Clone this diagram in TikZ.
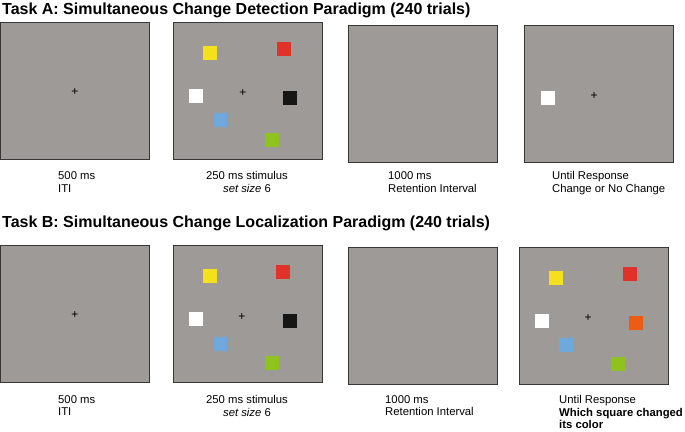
\documentclass[tikz,border=0pt]{standalone}
\usepackage{fontspec}
\setmainfont{Liberation Sans}
\usetikzlibrary{positioning}
\definecolor{scrgrey}{RGB}{157,154,151}
\definecolor{scredge}{RGB}{55,55,55}
\definecolor{sqyellow}{RGB}{245,224,30}
\definecolor{sqred}{RGB}{224,50,40}
\definecolor{sqblack}{RGB}{22,22,22}
\definecolor{sqblue}{RGB}{111,168,218}
\definecolor{sqgreen}{RGB}{142,194,28}
\definecolor{sqorange}{RGB}{236,92,18}
\tikzset{
  screen/.style={draw=scredge,line width=0.9pt,fill=scrgrey,minimum width=149pt,
                 minimum height=137pt,inner sep=0pt},
  sq/.style={minimum size=14pt,inner sep=0pt},
  fixc/.style={font=\fontsize{12}{12}\selectfont,inner sep=0pt},
  caption/.style={font=\fontsize{11.3}{12.8}\selectfont,align=left,inner sep=0pt,anchor=north west},
  captionc/.style={caption,align=center,anchor=north},
  ttl/.style={font=\fontsize{16}{18}\selectfont\bfseries,inner sep=0pt,anchor=base west},
}
\begin{document}
\begin{tikzpicture}[x=1pt,y=-1pt]
\useasboundingbox (0,0) rectangle (685,431);

% Task A
\node[ttl] (ta) at (2,14) {Task A: Simultaneous Change Detection Paradigm (240 trials)};

% Row A: screens
\node[screen] (a1) at (74.5,90.5) {};
\node[screen] (a2) at (247.5,90.5) {};
\node[screen] (a3) at (423,93.5) {};
\node[screen] (a4) at (598.5,93.5) {};

% Row A: fixation and stimuli
\node[fixc] (fa1) at (75,92) {+};
\node[fixc] (fa2) at (243,93) {+};
\node[sq,fill=sqyellow] (ya2) at (210,53) {};
\node[sq,fill=sqred] (ra2) at (284,49) {};
\node[sq,fill=white] (wa2) at (196,96) {};
\node[sq,fill=sqblack] (ka2) at (290,98) {};
\node[sq,fill=sqblue] (ba2) at (220,120) {};
\node[sq,fill=sqgreen] (ga2) at (272,140) {};
\node[fixc] (fa4) at (594,96) {+};
\node[sq,fill=white] (wa4) at (548,98) {};

% Row A: captions
\node[caption] (la1) at (58,171.5) {500 ms\\ITI};
\node[captionc] (la2) at (247,171.5) {250 ms stimulus\\\textit{set size} 6};
\node[caption] (la3) at (388,171.5) {1000 ms\\Retention Interval};
\node[caption] (la4) at (552,171.5) {Until Response\\Change or No Change};

% Task B
\node[ttl] (tb) at (2,227) {Task B: Simultaneous Change Localization Paradigm (240 trials)};

% Row B: screens
\node[screen] (b1) at (74.5,314) {};
\node[screen] (b2) at (247.5,314) {};
\node[screen] (b3) at (422.5,315.5) {};
\node[screen] (b4) at (593.5,315.5) {};

% Row B: fixation and stimuli
\node[fixc] (fb1) at (75,315) {+};
\node[fixc] (fb2) at (242,317) {+};
\node[sq,fill=sqyellow] (yb2) at (210,276) {};
\node[sq,fill=sqred] (rb2) at (283,272) {};
\node[sq,fill=white] (wb2) at (196,319) {};
\node[sq,fill=sqblack] (kb2) at (290,321) {};
\node[sq,fill=sqblue] (bb2) at (220,344) {};
\node[sq,fill=sqgreen] (gb2) at (272,363) {};
\node[fixc] (fb4) at (588,318) {+};
\node[sq,fill=sqyellow] (yb4) at (556,278) {};
\node[sq,fill=sqred] (rb4) at (630,274) {};
\node[sq,fill=white] (wb4) at (542,321) {};
\node[sq,fill=sqorange] (ob4) at (636,323) {};
\node[sq,fill=sqblue] (bb4) at (566,345) {};
\node[sq,fill=sqgreen] (gb4) at (618,364) {};

% Row B: captions
\node[caption] (lb1) at (58,395) {500 ms\\ITI};
\node[captionc] (lb2) at (247,395) {250 ms stimulus\\\textit{set size} 6};
\node[caption] (lb3) at (385,395) {1000 ms\\Retention Interval};
\node[caption] (lb4) at (559,395) {Until Response\\\textbf{Which square changed}\\\textbf{its color}};

\end{tikzpicture}
\end{document}
